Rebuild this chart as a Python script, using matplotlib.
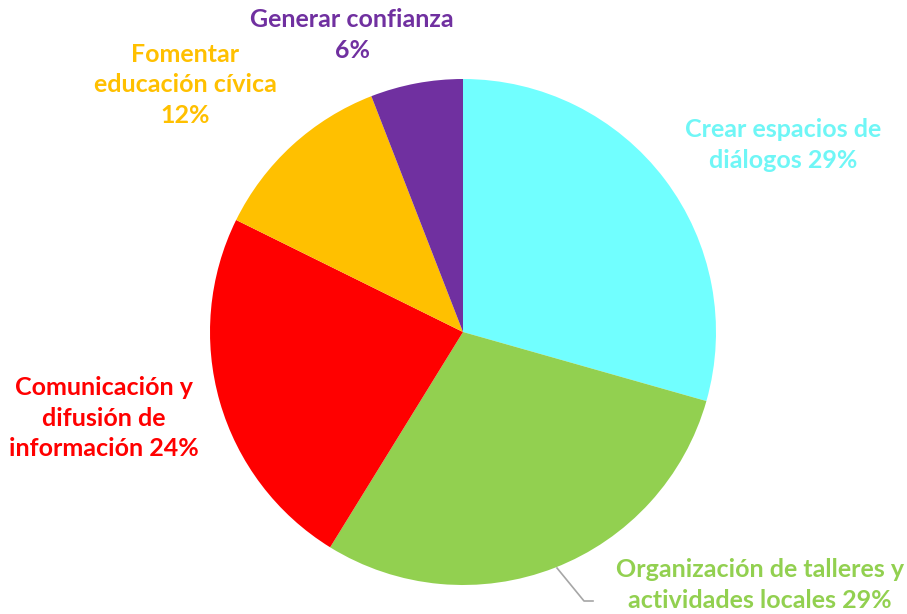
import matplotlib
matplotlib.use("Agg")
import matplotlib.pyplot as plt

labels = ["Crear espacios de\ndiálogos 29%",
          "Organización de talleres y\nactividades locales 29%",
          "Comunicación y\ndifusión de\ninformación 24%",
          "Fomentar\neducación cívica\n12%",
          "Generar confianza\n6%"]
values = [29.4, 29.4, 23.5, 11.8, 5.9]
colors = ["#71FFFF", "#92D050", "#FF0000", "#FFC000", "#7030A0"]

# label centres in pixel coords (x, y from top)
label_pos = [(783, 145), (760, 585), (104, 418), (185, 85), (352, 35)]

W, H = 907, 614
fig = plt.figure(figsize=(W / 100, H / 100), dpi=100)
ax = fig.add_axes([0, 0, 1, 1])

cx, cy, r = 463, 332, 253
ax.pie(values, colors=colors, startangle=90, counterclock=False,
       center=(cx, H - cy), radius=r, wedgeprops=dict(linewidth=0))

for lab, (x, y), c in zip(labels, label_pos, colors):
    col = "#6FF6F6" if c == "#71FFFF" else c
    ax.text(x, H - y, lab, ha="center", va="center", color=col,
            fontsize=18, fontweight="bold", family=["Lato", "DejaVu Sans"],
            linespacing=1.4)

# leader line for green label
ax.plot([557, 584, 593], [H - 568, H - 601, H - 601], color="#A6A6A6", lw=1.2)

ax.set_xlim(0, W)
ax.set_ylim(0, H)
ax.set_aspect("equal")
ax.axis("off")

fig.savefig("out.png", dpi=100)
